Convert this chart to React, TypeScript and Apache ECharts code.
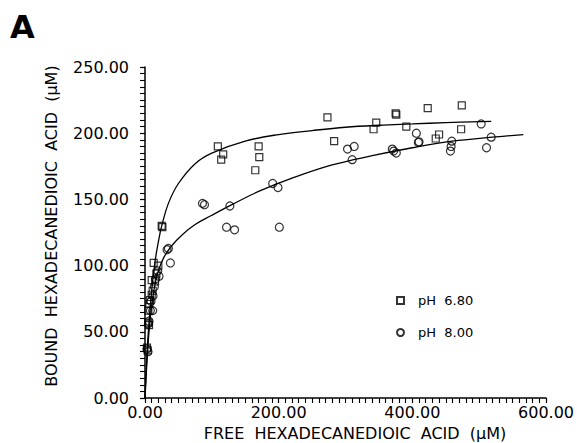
import React, { useEffect, useRef } from "react";
import * as echarts from "echarts";

// Bound vs free hexadecanedioic acid (µM)
const ph680Points: [number, number][] = [
  [3, 38], [4, 36], [5, 57], [6, 55], [5, 66], [6.5, 71], [7.5, 74], [10, 78],
  [11.5, 81], [10, 89], [15, 88], [17, 94], [20, 100], [13, 102], [25, 130], [26, 129],
  [109, 190], [117, 184], [114, 180], [170, 190], [171, 182], [165, 172],
  [273, 212], [283, 194], [342, 203], [346, 208], [375, 215], [376, 214], [391, 205],
  [423, 219], [435, 196], [440, 199], [473, 203], [474, 221],
];

const ph800Points: [number, number][] = [
  [3, 37], [4.5, 35], [5, 56], [6, 58], [8, 66], [11.5, 66], [9, 73], [12, 77],
  [14, 84], [16, 90], [19, 96], [21, 92], [33, 112], [35, 113], [38, 102],
  [86, 147], [89, 146], [122, 129], [127, 145], [134, 127], [191, 162], [199, 159], [201, 129],
  [303, 188], [313, 190], [310, 180], [370, 188], [372, 186.5], [376, 185],
  [406, 200], [409, 193], [410, 193.5], [457, 186.5], [458, 190], [459, 194],
  [503, 207], [511, 189], [518, 197],
];

// fitted curves
const curve680X = [0, 2, 5, 10, 15, 20, 25, 35, 50, 75, 100, 150, 200, 250, 300, 350, 400, 450, 518];
const curve680Y = [0, 23, 50, 81, 103, 118, 130, 147, 162, 177, 185, 194, 199, 202, 204.5, 206, 207, 208, 209];

const curve800X = [0, 3, 6, 10, 15, 20, 28, 40, 55, 75, 100, 130, 170, 220, 280, 340, 400, 460, 520, 566];
const curve800Y = [0, 28, 50, 70, 86, 96, 106, 115, 123, 131, 138, 146, 156, 166, 176, 183, 189, 194, 197, 199];

const seriesNames = ["pH\u00a0\u00a06.80", "pH\u00a0\u00a08.00"];
const xTitle = "FREE\u00a0\u00a0HEXADECANEDIOIC\u00a0\u00a0ACID\u00a0\u00a0(\u03bcM)";
const yTitle = "BOUND\u00a0\u00a0HEXADECANEDIOIC\u00a0\u00a0ACID\u00a0\u00a0(\u03bcM)";
const panelLabel = "A";

const FONT = "DejaVu Sans";

export default function App() {
  const ref = useRef<HTMLDivElement>(null);
  useEffect(() => {
    if (!ref.current) return;
    const chart = echarts.init(ref.current, null, { renderer: "svg" });
    const zip = (xs: number[], ys: number[]) => xs.map((x, i) => [x, ys[i]]);
    chart.setOption({
      animation: false,
      backgroundColor: "#fff",
      textStyle: { fontFamily: FONT, color: "#000" },
      grid: { left: 145, top: 67, width: 403, height: 331 },
      xAxis: {
        type: "value",
        min: 0,
        max: 600,
        interval: 200,
        axisLine: { lineStyle: { color: "#000", width: 1.5 } },
        axisTick: { length: 5, lineStyle: { color: "#000", width: 1.2 } },
        minorTick: { show: true, splitNumber: 20, length: 5, lineStyle: { color: "#000", width: 1.1 } },
        splitLine: { show: false },
        axisLabel: {
          margin: 6,
          fontSize: 16,
          lineHeight: 16,
          fontFamily: FONT,
          color: "#000",
          formatter: (v: number) => v.toFixed(2),
        },
      },
      yAxis: {
        type: "value",
        min: 0,
        max: 250,
        interval: 50,
        axisLine: { lineStyle: { color: "#000", width: 1.5 } },
        axisTick: { length: 5, lineStyle: { color: "#000", width: 1.2 } },
        minorTick: { show: true, splitNumber: 10, length: 5, lineStyle: { color: "#000", width: 1.1 } },
        splitLine: { show: false },
        axisLabel: {
          margin: 16,
          fontSize: 16,
          fontFamily: FONT,
          color: "#000",
          formatter: (v: number) => v.toFixed(2),
        },
      },
      legend: {
        data: seriesNames,
        orient: "vertical",
        left: 396,
        top: 294,
        itemWidth: 7,
        itemHeight: 7,
        itemGap: 19,
        padding: 0,
        textStyle: { fontSize: 13, fontFamily: FONT, color: "#000", padding: [0, 0, 0, 9] },
      },
      graphic: [
        {
          type: "text",
          left: 10,
          top: 11,
          style: { text: panelLabel, font: `bold 32px ${FONT}`, fill: "#000" },
        },
        {
          type: "text",
          x: 355,
          y: 433,
          style: {
            text: xTitle,
            font: `16px ${FONT}`,
            lineHeight: 16,
            fill: "#000",
            align: "center",
            verticalAlign: "middle",
          },
        },
        {
          type: "text",
          x: 51,
          y: 226,
          rotation: Math.PI / 2,
          style: {
            text: yTitle,
            font: `16px ${FONT}`,
            fill: "#000",
            align: "center",
            verticalAlign: "middle",
          },
        },
      ],
      series: [
        {
          name: seriesNames[0],
          type: "scatter",
          symbol: "rect",
          symbolSize: 7,
          itemStyle: { color: "rgba(0,0,0,0)", borderColor: "#000", borderWidth: 1.2 },
          data: ph680Points,
          z: 3,
        },
        {
          name: seriesNames[1],
          type: "scatter",
          symbol: "circle",
          symbolSize: 8,
          itemStyle: { color: "rgba(0,0,0,0)", borderColor: "#000", borderWidth: 1.2 },
          data: ph800Points,
          z: 3,
        },
        {
          type: "line",
          data: zip(curve680X, curve680Y),
          showSymbol: false,
          smooth: 0.4,
          lineStyle: { color: "#000", width: 1.3 },
          z: 2,
        },
        {
          type: "line",
          data: zip(curve800X, curve800Y),
          showSymbol: false,
          smooth: 0.4,
          lineStyle: { color: "#000", width: 1.3 },
          z: 2,
        },
      ],
    });
    return () => chart.dispose();
  }, []);
  return (
    <div
      ref={ref}
      style={{ position: "absolute", left: 0, top: 0, width: 577, height: 443 }}
    />
  );
}
